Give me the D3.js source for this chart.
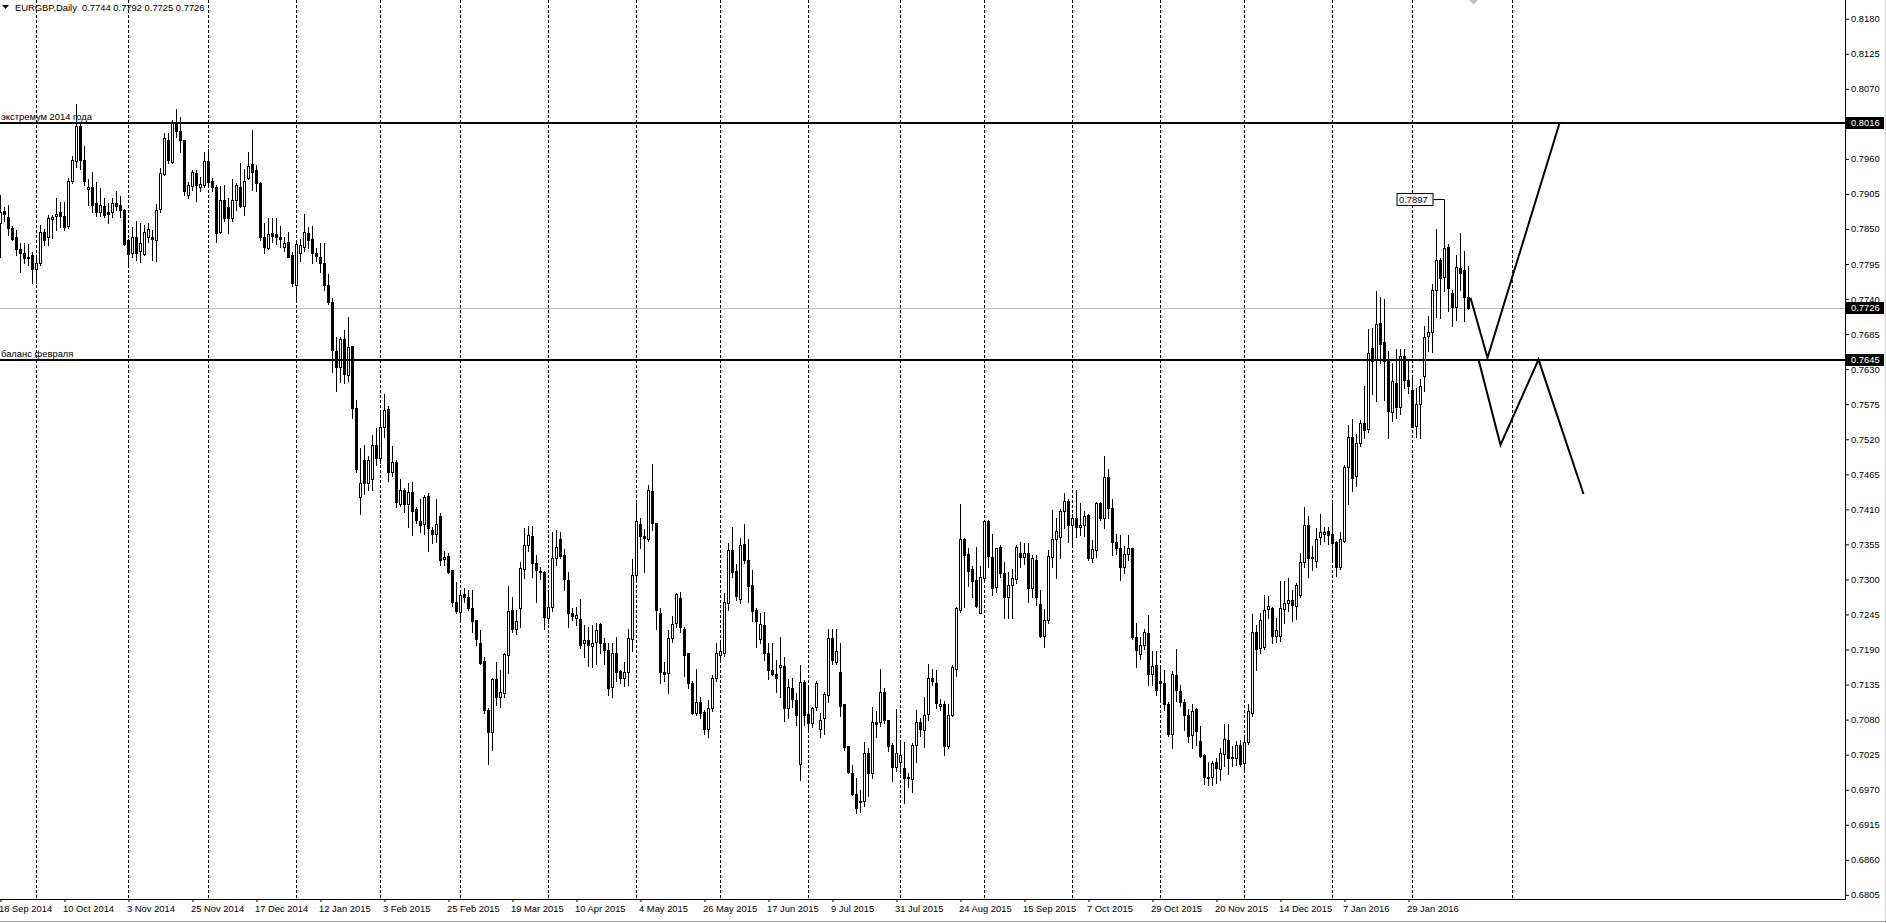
<!DOCTYPE html>
<html><head><meta charset="utf-8">
<script src="https://cdn.jsdelivr.net/npm/d3@7"></script>
<style>
body{margin:0;background:#fff;overflow:hidden}
svg{display:block}
</style>
</head><body>
<svg id="c" width="1886" height="923"></svg>
<script>
// ---------------- DATA ----------------
const symbolTitle = "EURGBP,Daily";
const headerOHLC = [0.7744, 0.7792, 0.7725, 0.7726];

// daily candles, bar 0 = 18 Sep 2014 ... bar 367 = 19 Feb 2016
const open = [
.7860,.7878,.7869,.7851,.7838,.7818,.7812,.7806,.7809,.7787,
.7796,.7845,.7838,.7866,.7870,.7877,.7870,.7855,.7926,.7957,
.8012,.7958,.7913,.7916,.7890,.7877,.7886,.7877,.7876,.7890,
.7888,.7880,.7833,.7812,.7838,.7815,.7811,.7837,.7838,.7832,
.7881,.7937,.7990,.7955,.8018,.8003,.7990,.7904,.7917,.7938,
.7916,.7919,.7956,.7926,.7916,.7845,.7895,.7885,.7867,.7895,
.7916,.7886,.7930,.7952,.7942,.7922,.7838,.7820,.7843,.7842,
.7838,.7822,.7830,.7809,.7762,.7812,.7822,.7843,.7834,.7812,
.7806,.7797,.7762,.7736,.7658,.7634,.7678,.7621,.7666,.7569,
.7429,.7487,.7452,.7457,.7511,.7491,.7539,.7567,.7469,.7485,
.7418,.7441,.7418,.7437,.7410,.7391,.7387,.7431,.7378,.7371,
.7399,.7332,.7337,.7315,.7265,.7249,.7277,.7273,.7255,.7236,
.7201,.7172,.7095,.7061,.7143,.7116,.7122,.7181,.7252,.7222,
.7255,.7316,.7354,.7368,.7326,.7314,.7311,.7240,.7257,.7333,
.7364,.7338,.7299,.7247,.7240,.7238,.7200,.7205,.7195,.7202,
.7230,.7200,.7190,.7131,.7184,.7157,.7146,.7154,.7206,.7307,
.7387,.7368,.7363,.7439,.7388,.7247,.7155,.7153,.7208,.7231,
.7271,.7223,.7184,.7137,.7091,.7108,.7092,.7066,.7098,.7145,
.7182,.7185,.7263,.7346,.7313,.7270,.7356,.7331,.7291,.7252,
.7206,.7228,.7184,.7158,.7152,.7163,.7164,.7098,.7129,.7111,
.7011,.7139,.7089,.7075,.7100,.7066,.7082,.7119,.7208,.7171,
.7154,.7104,.7038,.6997,.6964,.6950,.6953,.7028,.6997,.7077,
.7077,.7124,.7080,.7040,.7005,.7014,.7004,.6990,.6987,.7040,
.7077,.7064,.7089,.7146,.7138,.7101,.7105,.7039,.7087,.7160,
.7252,.7363,.7340,.7316,.7299,.7247,.7303,.7391,.7335,.7288,
.7351,.7310,.7273,.7291,.7300,.7342,.7335,.7342,.7286,.7331,
.7262,.7211,.7236,.7335,.7364,.7367,.7408,.7423,.7385,.7396,
.7382,.7385,.7401,.7333,.7346,.7420,.7396,.7460,.7412,.7359,
.7350,.7320,.7340,.7349,.7210,.7183,.7197,.7216,.7151,.7166,
.7140,.7138,.7104,.7057,.7150,.7125,.7107,.7088,.7056,.7096,
.7046,.7025,.6990,.6990,.7014,.7003,.7026,.7048,.7022,.7020,
.7040,.7012,.7045,.7090,.7218,.7192,.7194,.7253,.7255,.7211,
.7212,.7254,.7263,.7268,.7258,.7275,.7327,.7385,.7333,.7329,
.7366,.7372,.7376,.7372,.7358,.7320,.7361,.7476,.7524,.7462,
.7514,.7546,.7536,.7663,.7645,.7703,.7673,.7644,.7563,.7609,
.7570,.7651,.7613,.7598,.7541,.7575,.7620,.7682,.7688,.7754,
.7801,.7774,.7822,.7750,.7727,.7789,.7786,.7744];

const high = [
.7903,.7885,.7887,.7855,.7848,.7828,.7828,.7827,.7814,.7806,
.7856,.7850,.7872,.7872,.7898,.7893,.7893,.7930,.7964,.8046,
.8018,.7980,.7929,.7940,.7924,.7914,.7898,.7890,.7898,.7910,
.7902,.7882,.7835,.7853,.7862,.7859,.7856,.7860,.7848,.7889,
.7945,.8000,.8001,.8021,.8038,.8026,.7990,.7924,.7943,.7943,
.7932,.7971,.7975,.7930,.7919,.7917,.7919,.7898,.7928,.7922,
.7954,.7944,.7971,.8005,.7951,.7924,.7859,.7867,.7867,.7867,
.7854,.7838,.7846,.7814,.7833,.7835,.7874,.7853,.7855,.7820,
.7828,.7828,.7780,.7741,.7681,.7681,.7691,.7712,.7667,.7582,
.7506,.7511,.7493,.7527,.7537,.7563,.7591,.7572,.7509,.7487,
.7457,.7444,.7451,.7453,.7414,.7427,.7433,.7435,.7383,.7427,
.7404,.7344,.7342,.7315,.7296,.7284,.7286,.7284,.7284,.7237,
.7220,.7179,.7098,.7145,.7171,.7158,.7184,.7290,.7273,.7252,
.7328,.7380,.7384,.7384,.7338,.7320,.7314,.7278,.7375,.7377,
.7375,.7347,.7311,.7255,.7257,.7270,.7229,.7226,.7229,.7231,
.7232,.7208,.7200,.7201,.7210,.7158,.7171,.7223,.7332,.7422,
.7396,.7379,.7448,.7481,.7388,.7255,.7170,.7220,.7243,.7279,
.7281,.7226,.7185,.7140,.7160,.7115,.7095,.7111,.7150,.7200,
.7200,.7278,.7357,.7383,.7325,.7365,.7387,.7363,.7315,.7255,
.7247,.7249,.7200,.7200,.7173,.7210,.7179,.7144,.7145,.7121,
.7166,.7142,.7129,.7100,.7140,.7090,.7124,.7222,.7222,.7222,
.7200,.7104,.7038,.7009,.6988,.6970,.7045,.7035,.7100,.7093,
.7159,.7129,.7080,.7043,.7096,.7043,.7045,.6996,.7044,.7095,
.7082,.7115,.7168,.7159,.7158,.7113,.7110,.7105,.7165,.7257,
.7419,.7365,.7350,.7321,.7351,.7321,.7393,.7393,.7372,.7350,
.7354,.7328,.7311,.7316,.7354,.7358,.7357,.7357,.7338,.7338,
.7283,.7254,.7346,.7409,.7396,.7410,.7436,.7427,.7403,.7441,
.7420,.7408,.7402,.7362,.7422,.7422,.7493,.7473,.7426,.7372,
.7369,.7353,.7370,.7350,.7232,.7210,.7223,.7244,.7188,.7188,
.7163,.7158,.7107,.7156,.7191,.7135,.7113,.7096,.7104,.7098,
.7070,.7026,.7014,.7015,.7020,.7036,.7073,.7073,.7039,.7046,
.7048,.7051,.7104,.7246,.7229,.7247,.7276,.7274,.7257,.7239,
.7297,.7297,.7302,.7283,.7294,.7341,.7413,.7400,.7353,.7381,
.7403,.7383,.7382,.7420,.7360,.7374,.7480,.7543,.7551,.7528,
.7550,.7603,.7693,.7694,.7752,.7744,.7740,.7658,.7640,.7662,
.7662,.7662,.7643,.7618,.7601,.7615,.7698,.7713,.7763,.7850,
.7805,.7820,.7827,.7755,.7809,.7844,.7815,.7792];

const low = [
.7806,.7862,.7841,.7832,.7809,.7783,.7796,.7794,.7765,.7765,
.7794,.7825,.7825,.7836,.7848,.7853,.7848,.7851,.7922,.7948,
.7944,.7919,.7888,.7876,.7870,.7870,.7869,.7860,.7869,.7880,
.7869,.7825,.7795,.7806,.7802,.7798,.7809,.7830,.7801,.7800,
.7877,.7935,.7953,.7954,.7995,.7971,.7903,.7898,.7911,.7894,
.7909,.7916,.7916,.7909,.7830,.7843,.7862,.7843,.7862,.7880,
.7885,.7872,.7928,.7911,.7910,.7833,.7812,.7818,.7830,.7827,
.7822,.7815,.7806,.7760,.7738,.7799,.7815,.7820,.7797,.7800,
.7783,.7755,.7732,.7626,.7595,.7610,.7608,.7611,.7553,.7469,
.7403,.7434,.7440,.7440,.7480,.7483,.7523,.7455,.7462,.7414,
.7415,.7406,.7383,.7370,.7389,.7375,.7372,.7345,.7357,.7358,
.7323,.7323,.7310,.7258,.7247,.7237,.7265,.7252,.7218,.7197,
.7167,.7090,.7011,.7032,.7103,.7100,.7116,.7153,.7218,.7215,
.7226,.7302,.7345,.7304,.7264,.7300,.7222,.7231,.7250,.7323,
.7333,.7283,.7226,.7236,.7229,.7193,.7179,.7164,.7162,.7167,
.7184,.7168,.7119,.7115,.7140,.7137,.7132,.7134,.7188,.7297,
.7350,.7312,.7360,.7378,.7223,.7138,.7140,.7121,.7202,.7225,
.7218,.7148,.7130,.7089,.7087,.7082,.7058,.7053,.7094,.7140,
.7174,.7180,.7252,.7304,.7268,.7263,.7326,.7265,.7234,.7194,
.7200,.7173,.7143,.7150,.7124,.7116,.7078,.7083,.7100,.7071,
.6986,.7071,.7060,.7068,.7095,.7052,.7058,.7107,.7168,.7168,
.7086,.7033,.6996,.6962,.6934,.6935,.6945,.6960,.6988,.7052,
.7070,.7075,.7030,.6983,.7000,.6996,.6949,.6975,.6967,.7014,
.7055,.7037,.7079,.7134,.7099,.7095,.7025,.7035,.7085,.7148,
.7249,.7257,.7290,.7273,.7257,.7247,.7300,.7320,.7275,.7281,
.7304,.7239,.7239,.7239,.7295,.7320,.7325,.7264,.7272,.7260,
.7210,.7194,.7232,.7319,.7302,.7333,.7380,.7359,.7351,.7367,
.7370,.7368,.7330,.7328,.7335,.7393,.7380,.7397,.7339,.7340,
.7299,.7310,.7330,.7207,.7163,.7175,.7191,.7135,.7135,.7118,
.7110,.7095,.7054,.7035,.7110,.7102,.7064,.7045,.7035,.7040,
.7021,.6979,.6978,.6978,.6980,.6986,.7007,.6995,.7007,.7009,
.7007,.7001,.7042,.7085,.7158,.7185,.7191,.7240,.7201,.7202,
.7204,.7232,.7250,.7235,.7238,.7272,.7319,.7304,.7315,.7319,
.7355,.7360,.7355,.7328,.7306,.7316,.7358,.7418,.7439,.7447,
.7509,.7522,.7531,.7591,.7580,.7640,.7581,.7522,.7549,.7553,
.7559,.7600,.7592,.7539,.7523,.7522,.7596,.7659,.7657,.7712,
.7711,.7753,.7722,.7697,.7707,.7755,.7706,.7725];

const close = [
.7877,.7874,.7851,.7835,.7818,.7812,.7804,.7805,.7787,.7796,
.7845,.7833,.7867,.7869,.7874,.7870,.7853,.7926,.7958,.8012,
.7958,.7926,.7916,.7888,.7877,.7888,.7872,.7874,.7890,.7886,
.7880,.7826,.7810,.7838,.7812,.7828,.7845,.7850,.7834,.7880,
.7938,.7992,.7958,.8018,.8003,.7989,.7910,.7919,.7940,.7919,
.7920,.7956,.7924,.7916,.7844,.7895,.7867,.7867,.7895,.7919,
.7886,.7925,.7949,.7940,.7922,.7838,.7822,.7842,.7839,.7837,
.7835,.7828,.7806,.7765,.7827,.7825,.7845,.7833,.7812,.7808,
.7796,.7762,.7736,.7660,.7633,.7678,.7623,.7665,.7569,.7473,
.7451,.7451,.7488,.7511,.7490,.7539,.7566,.7469,.7485,.7422,
.7440,.7418,.7437,.7408,.7393,.7386,.7429,.7380,.7371,.7387,
.7331,.7335,.7312,.7265,.7250,.7276,.7273,.7255,.7234,.7206,
.7169,.7095,.7061,.7143,.7116,.7124,.7183,.7251,.7223,.7235,
.7318,.7354,.7370,.7326,.7315,.7311,.7241,.7257,.7334,.7351,
.7337,.7300,.7248,.7242,.7244,.7197,.7205,.7197,.7201,.7220,
.7200,.7189,.7129,.7185,.7155,.7145,.7154,.7208,.7307,.7392,
.7368,.7365,.7440,.7389,.7252,.7154,.7152,.7208,.7230,.7277,
.7225,.7181,.7138,.7091,.7107,.7090,.7065,.7098,.7146,.7184,
.7187,.7265,.7346,.7311,.7274,.7354,.7331,.7289,.7251,.7234,
.7230,.7185,.7158,.7152,.7146,.7165,.7098,.7131,.7112,.7087,
.7139,.7087,.7074,.7098,.7137,.7080,.7120,.7208,.7173,.7188,
.7102,.7037,.6998,.6964,.6941,.6953,.7028,.6997,.7077,.7073,
.7124,.7079,.7039,.7005,.7027,.7024,.6989,.6988,.7040,.7077,
.7065,.7088,.7146,.7140,.7106,.7105,.7039,.7087,.7162,.7255,
.7364,.7338,.7314,.7298,.7258,.7304,.7392,.7336,.7287,.7349,
.7310,.7273,.7291,.7302,.7351,.7335,.7342,.7286,.7333,.7273,
.7211,.7236,.7336,.7364,.7376,.7408,.7423,.7386,.7397,.7382,
.7385,.7399,.7333,.7347,.7420,.7397,.7461,.7412,.7359,.7349,
.7320,.7340,.7350,.7210,.7190,.7197,.7218,.7151,.7164,.7127,
.7138,.7104,.7057,.7151,.7127,.7107,.7087,.7054,.7094,.7062,
.7023,.6990,.6989,.7012,.7004,.7028,.7050,.7020,.7020,.7040,
.7011,.7045,.7093,.7218,.7191,.7237,.7252,.7258,.7212,.7220,
.7255,.7263,.7268,.7260,.7291,.7328,.7385,.7333,.7335,.7364,
.7374,.7375,.7369,.7357,.7320,.7363,.7476,.7524,.7459,.7514,
.7545,.7534,.7656,.7643,.7701,.7670,.7643,.7564,.7611,.7570,
.7650,.7613,.7603,.7539,.7575,.7603,.7681,.7688,.7754,.7801,
.7773,.7820,.7757,.7727,.7790,.7781,.7744,.7726];

// time scale labels (every 16 bars)
const dateLabels = ["18 Sep 2014","10 Oct 2014","3 Nov 2014","25 Nov 2014","17 Dec 2014",
 "12 Jan 2015","3 Feb 2015","25 Feb 2015","19 Mar 2015","10 Apr 2015","4 May 2015",
 "26 May 2015","17 Jun 2015","9 Jul 2015","31 Jul 2015","24 Aug 2015","15 Sep 2015",
 "7 Oct 2015","29 Oct 2015","20 Nov 2015","14 Dec 2015","7 Jan 2016","29 Jan 2016"];
const dateLabelBars = [0,16,32,48,64,80,96,112,128,144,160,176,192,208,224,240,256,272,288,304,320,336,352];

// monthly period separators (bar index of first bar of each month)
const separatorBars = [9,32,52,74,95,115,137,159,180,202,225,246,268,290,311,333,353,378];

// price scale labels
const priceTicks = [0.8180,0.8125,0.8070,0.7960,0.7905,0.7850,0.7795,0.7740,0.7685,0.7630,
 0.7575,0.7520,0.7465,0.7410,0.7355,0.7300,0.7245,0.7190,0.7135,0.7080,0.7025,0.6970,
 0.6915,0.6860,0.6805];

// horizontal levels
const levelPrices = [0.8016, 0.7645];
const levelNames = ["экстремум 2014 года", "баланс февраля"];
const bidPrice = 0.7726;

// forecast zigzags [bar, price]
const forecastA = [[367.5,0.7742],[371.75,0.7648],[389.75,0.8016]];
const forecastB = [[369.5,0.7645],[375,0.7511],[384.5,0.7645],[395.75,0.7434]];

// price label object
const calloutPrice = 0.7897;
const calloutBar = 361;

// ---------------- DRAW ----------------
const FONT = "'Liberation Sans', Arial, sans-serif";
const FS = 9.4;
const plotRight = 1845, plotBottom = 899;
const svg = d3.select("#c");
const x = d3.scaleLinear().domain([0, 461]).range([0.5, 1844.5]);
const y = d3.scaleLinear().domain([0.6805, 0.8180]).range([894.85, 18.7]);
const py = v => Math.round(y(v));

svg.append("rect").attr("width",1886).attr("height",923).attr("fill","#fff");

// period separators
svg.append("g").selectAll("line").data(separatorBars).join("line")
  .attr("x1", d => x(d)).attr("x2", d => x(d))
  .attr("y1", 0).attr("y2", plotBottom)
  .attr("stroke", "#000").attr("stroke-width", 1)
  .attr("stroke-dasharray", "3,2");

// bid line
svg.append("line").attr("x1",0).attr("x2",plotRight)
  .attr("y1", py(bidPrice)+0.5).attr("y2", py(bidPrice)+0.5)
  .attr("stroke","#c0c0c0").attr("stroke-width",1);

// candles
const idx = d3.range(close.length);
const cg = svg.append("g").attr("shape-rendering","crispEdges");
cg.selectAll("rect.w").data(idx).join("rect").attr("class","w")
  .attr("x", i => x(i) - 0.5)
  .attr("y", i => py(Math.max(high[i], open[i], close[i])))
  .attr("width", 1)
  .attr("height", i => py(Math.min(low[i], open[i], close[i])) - py(Math.max(high[i], open[i], close[i])) + 1)
  .attr("fill", "#000");
cg.selectAll("rect.b").data(idx).join("rect").attr("class","b")
  .each(function(i){
    const yo = py(open[i]), yc = py(close[i]);
    const t = Math.min(yo, yc), b = Math.max(yo, yc);
    const s = d3.select(this);
    if (close[i] > open[i]) {
      s.attr("x", x(i) - 1).attr("y", t + 0.5).attr("width", 2).attr("height", Math.max(b - t, 1))
       .attr("fill", "#fff").attr("stroke", "#000").attr("stroke-width", 1);
    } else {
      s.attr("x", x(i) - 1.5).attr("y", t).attr("width", 3).attr("height", b - t + 1)
       .attr("fill", "#000");
    }
  });

// horizontal levels
const lg = svg.append("g");
lg.selectAll("rect").data(levelPrices).join("rect")
  .attr("x", 0).attr("y", d => py(d) - 1).attr("width", plotRight).attr("height", 2).attr("fill", "#000");
lg.selectAll("text").data(levelPrices).join("text")
  .attr("x", 1).attr("y", d => py(d) - 3)
  .attr("font-family", FONT).attr("font-size", FS).attr("fill", "#000")
  .text((d, k) => levelNames[k]);

// forecast lines
const line = d3.line().x(d => x(d[0])).y(d => y(d[1]));
svg.selectAll("path.fc").data([forecastA, forecastB]).join("path").attr("class","fc")
  .attr("d", line).attr("fill","none").attr("stroke","#000").attr("stroke-width",2);

// callout
const cx = x(calloutBar), cy = py(calloutPrice) + 0.5;
svg.append("path")
  .attr("d", `M${cx-11},${cy}H${cx}V${py(high[calloutBar])}`)
  .attr("fill","none").attr("stroke","#000").attr("stroke-width",1);
svg.append("rect").attr("x", cx-47.5).attr("y", cy-6).attr("width", 36).attr("height", 12)
  .attr("fill","#fff").attr("stroke","#000").attr("stroke-width",1);
svg.append("text").attr("x", cx-45.5).attr("y", cy).attr("dy","0.35em")
  .attr("font-family", FONT).attr("font-size", FS).attr("fill","#000")
  .text(d3.format(".4f")(calloutPrice));

// axes lines
svg.append("line").attr("x1", plotRight+0.5).attr("x2", plotRight+0.5).attr("y1", 0).attr("y2", plotBottom+0.5)
  .attr("stroke","#000");
svg.append("line").attr("x1", 0).attr("x2", plotRight+0.5).attr("y1", plotBottom+0.5).attr("y2", plotBottom+0.5)
  .attr("stroke","#000");

// price axis
const yAxis = d3.axisRight(y).tickValues(priceTicks).tickFormat(d3.format(".4f")).tickSize(4).tickPadding(2);
svg.append("g").attr("transform", `translate(${plotRight},0)`).call(yAxis)
  .call(g => g.select(".domain").remove())
  .attr("font-family", FONT).attr("font-size", FS)
  .call(g => g.selectAll("text").attr("fill","#000"));

// time axis
const xAxis = d3.axisBottom(x).tickValues(dateLabelBars).tickFormat((d, k) => dateLabels[k]).tickSize(3).tickPadding(3);
svg.append("g").attr("transform", `translate(0,${plotBottom})`).call(xAxis)
  .call(g => g.select(".domain").remove())
  .attr("font-family", FONT).attr("font-size", FS)
  .call(g => g.selectAll("text").attr("text-anchor","start").attr("x",-2).attr("fill","#000"));

// price boxes on the scale
const boxes = [levelPrices[0], bidPrice, levelPrices[1]];
const bg = svg.append("g");
bg.selectAll("rect").data(boxes).join("rect")
  .attr("x", plotRight+1).attr("y", d => py(d) - 6).attr("width", 38).attr("height", 12).attr("fill","#000");
bg.selectAll("text").data(boxes).join("text")
  .attr("x", plotRight+6).attr("y", d => py(d)).attr("dy","0.35em")
  .attr("font-family", FONT).attr("font-size", FS).attr("fill","#fff")
  .text(d => d3.format(".4f")(d));

// header
svg.append("path").attr("d","M2,5H9L5.5,9Z").attr("fill","#000");
svg.append("text").attr("x", 15).attr("y", 10.5)
  .attr("font-family", FONT).attr("font-size", FS).attr("fill","#000")
  .attr("xml:space","preserve")
  .text(symbolTitle + "  " + headerOHLC.map(d3.format(".4f")).join(" "));

// chart shift marker
svg.append("path").attr("d","M1469,0H1478L1473.5,4.5Z").attr("fill","#c0c0c0");

// window borders
svg.append("line").attr("x1",1885.5).attr("x2",1885.5).attr("y1",0).attr("y2",923).attr("stroke","#d4d4d4");
svg.append("line").attr("x1",0).attr("x2",1886).attr("y1",921.5).attr("y2",921.5).attr("stroke","#a0a0a0");
</script>
</body></html>
